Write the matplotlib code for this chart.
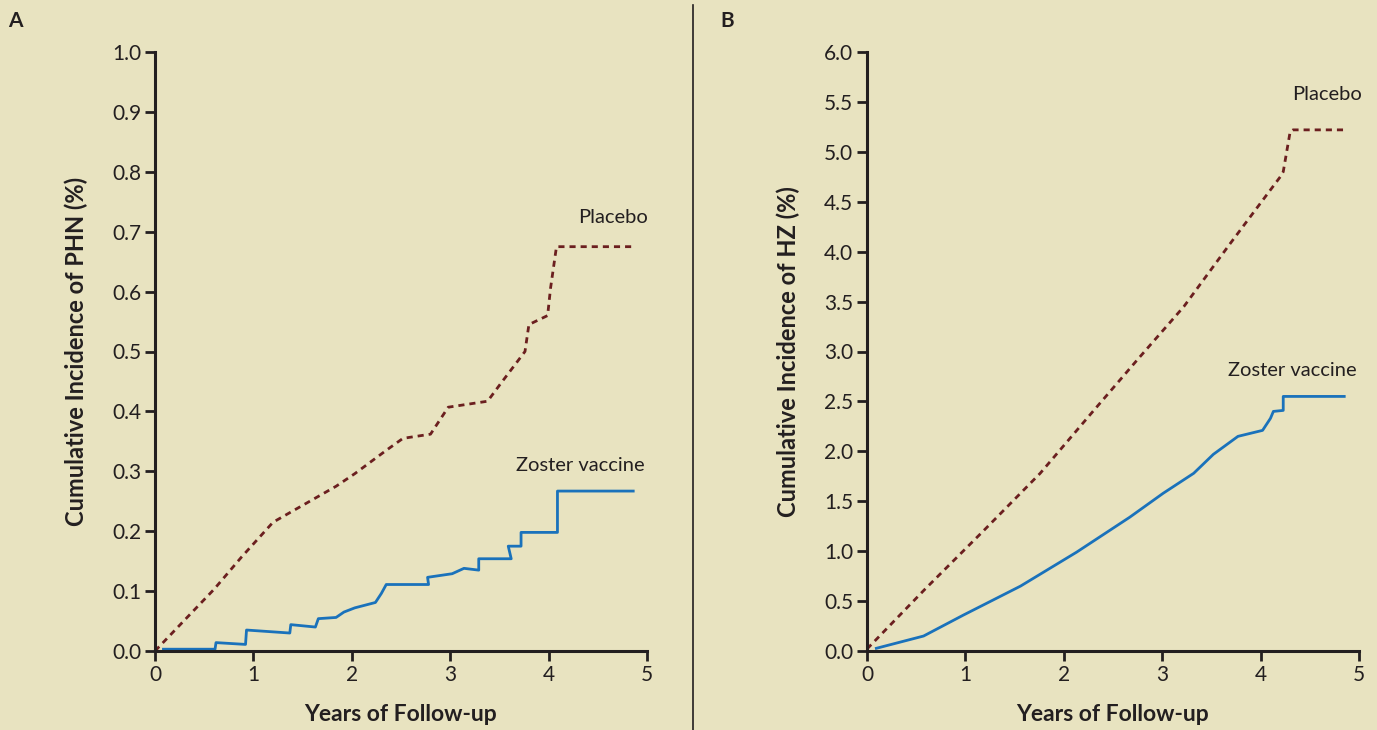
import matplotlib
matplotlib.use("Agg")
import matplotlib.pyplot as plt
from matplotlib.lines import Line2D

plt.rcParams['font.family'] = ['Lato', 'DejaVu Sans']

# Panel A: cumulative incidence of PHN (%)
a_placebo_x = [0, 0.6, 0.88, 1.2, 1.84, 2.03, 2.35, 2.52, 2.80, 2.98, 3.38, 3.52, 3.76, 3.80, 3.99, 4.02, 4.08, 4.86]
a_placebo_y = [0, 0.103, 0.157, 0.215, 0.275, 0.296, 0.335, 0.355, 0.362, 0.407, 0.417, 0.448, 0.500, 0.545, 0.560, 0.606, 0.675, 0.675]
a_vaccine_x = [0.086, 0.61, 0.62, 0.92, 0.93, 1.37, 1.38, 1.63, 1.66, 1.84, 1.92, 2.03, 2.24, 2.30, 2.35, 2.78,
               2.77, 3.02, 3.14, 3.29, 3.29, 3.62, 3.59, 3.72, 3.72, 4.09, 4.09, 4.86]
a_vaccine_y = [0.003, 0.003, 0.014, 0.011, 0.035, 0.030, 0.044, 0.040, 0.054, 0.056, 0.065, 0.072, 0.081, 0.096, 0.111, 0.111,
               0.123, 0.129, 0.138, 0.135, 0.154, 0.154, 0.175, 0.175, 0.198, 0.198, 0.267, 0.267]

# Panel B: cumulative incidence of HZ (%)
b_placebo_x = [0, 0.59, 1.18, 1.76, 2.27, 2.75, 3.22, 3.69, 4.20, 4.23, 4.30, 4.33, 4.84]
b_placebo_y = [0.02, 0.62, 1.20, 1.78, 2.37, 2.92, 3.45, 4.08, 4.75, 4.80, 5.20, 5.22, 5.22]
b_vaccine_x = [0.095, 0.575, 0.98, 1.56, 2.13, 2.67, 3.01, 3.32, 3.52, 3.77, 4.02, 4.10, 4.13, 4.23, 4.23, 4.85]
b_vaccine_y = [0.027, 0.15, 0.36, 0.65, 0.99, 1.34, 1.58, 1.78, 1.97, 2.15, 2.21, 2.33, 2.40, 2.41, 2.55, 2.55]

x_ticks = [0, 1, 2, 3, 4, 5]
a_yticks = [i / 10 for i in range(11)]
b_yticks = [i / 2 for i in range(13)]

bg = '#e8e3c0'
ink = '#231f20'
blue = '#1a72bb'
red = '#6b1f1f'

fig = plt.figure(figsize=(13.77, 7.3), dpi=100, facecolor=bg)
ax_a = fig.add_axes([155 / 1377, 1 - 651 / 730, 492 / 1377, 599 / 730])
ax_b = fig.add_axes([867 / 1377, 1 - 651 / 730, 492 / 1377, 599 / 730])

# (axes, placebo, vaccine, yticks, ymax, ylabel, placebo label (x, y), vaccine label (x, y))
panels = [
    (ax_a, a_placebo_x, a_placebo_y, a_vaccine_x, a_vaccine_y, a_yticks, 1.0,
     'Cumulative Incidence of PHN (%)', (5.01, 0.724), (4.98, 0.309)),
    (ax_b, b_placebo_x, b_placebo_y, b_vaccine_x, b_vaccine_y, b_yticks, 6.0,
     'Cumulative Incidence of HZ (%)', (5.03, 5.57), (4.98, 2.81)),
]

for ax, px, py, vx, vy, yt, ymax, ylab, plab, vlab in panels:
    ax.set_facecolor(bg)
    ax.plot(px, py, color=red, lw=2.0, linestyle=(0, (2.2, 1.8)), solid_joinstyle='miter')
    ax.plot(vx, vy, color=blue, lw=2.0)
    ax.set_xlim(0, 5)
    ax.set_ylim(0, ymax)
    ax.set_xticks(x_ticks)
    ax.set_yticks(yt)
    ax.set_yticklabels([f'{v:.1f}' for v in yt])
    for s in ['top', 'right']:
        ax.spines[s].set_visible(False)
    for s in ['left', 'bottom']:
        ax.spines[s].set_linewidth(2.2)
        ax.spines[s].set_color(ink)
        ax.spines[s].set_clip_on(False)
    ax.tick_params(direction='out', length=7, width=2, color=ink, labelcolor=ink, labelsize=15, pad=3)
    ax.set_ylabel(ylab, fontsize=17, fontweight='bold', color=ink, labelpad=17)
    ax.set_xlabel('Years of Follow-up', fontsize=16.5, fontweight='bold', color=ink, labelpad=14)
    ax.text(plab[0], plab[1], 'Placebo', fontsize=14.5, color=ink, ha='right', va='center')
    ax.text(vlab[0], vlab[1], 'Zoster vaccine', fontsize=14.5, color=ink, ha='right', va='center')

fig.text(8 / 1377, 1 - 21 / 730, 'A', fontsize=15, fontweight='bold', color=ink, ha='left', va='center')
fig.text(720 / 1377, 1 - 21 / 730, 'B', fontsize=15, fontweight='bold', color=ink, ha='left', va='center')
fig.add_artist(Line2D([693 / 1377, 693 / 1377], [0, 1 - 5 / 730], transform=fig.transFigure, color=ink, lw=1.2))

fig.savefig('out.png', dpi=100, facecolor=bg)
